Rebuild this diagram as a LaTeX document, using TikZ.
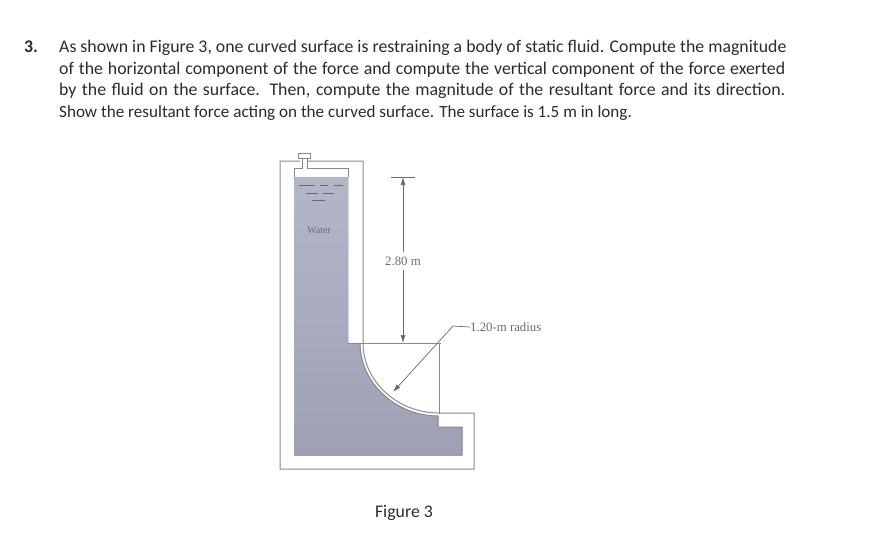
\documentclass[tikz,border=0pt]{standalone}
\usepackage{fontspec}
\setmainfont{Carlito}
\newfontfamily\figfont{Liberation Serif}
\usetikzlibrary{%
  arrows.meta,%
  calc%
}
\definecolor{waterTop}{HTML}{B2B7C8}
\definecolor{waterBot}{HTML}{9EA1B5}
\definecolor{wallc}{HTML}{8A8A8A}
\definecolor{dimc}{HTML}{6A6A6A}
\definecolor{inkc}{HTML}{2B2B2B}
\tikzset{>={Latex[length=8pt,width=5pt]}, x=1pt, y=-1pt,
  wall/.style = {draw=wallc, line width=1pt},
  dimline/.style = {draw=dimc, line width=0.7pt},
  qtext/.style = {anchor=base west, inner sep=0pt, text=inkc, font=\fontsize{17.8}{20}\selectfont},
  figlabel/.style = {inner sep=1pt, text=dimc, font=\figfont\fontsize{12.8}{14}\selectfont}}

\begin{document}
\begin{tikzpicture}
    \useasboundingbox (0,0) rectangle (870,533);
    % question text
    \node[qtext] (num) at (24,52) {\textbf{3.}};
    \node[qtext] (lineA) at (59,52) {As shown in Figure 3, one curved surface is restraining a body of static fluid. Compute the magnitude};
    \node[qtext] (lineB) at (59,74) {\makebox[726pt][s]{of the horizontal component of the force and compute the vertical component of the force exerted}};
    \node[qtext] (lineC) at (59,95) {\makebox[726pt][s]{by the fluid on the surface. Then, compute the magnitude of the resultant force and its direction.}};
    \node[qtext,font=\fontsize{17.1}{20}\selectfont] (lineD) at (59,117) {Show the resultant force acting on the curved surface. The surface is 1.5 m in long.};
    % fluid
    \fill[top color=waterTop, bottom color=waterBot] (294,177) -- (348,177) -- (348,343) -- (360,343)
      .. controls (360,383) and (396,416) .. (438,416) -- (438,427) -- (462,427)
      -- (462,455) -- (294,455) -- cycle;
    % outer wall
    \draw[wall] (300,161) -- (280,161) -- (280,469) -- (474,469) -- (474,413) -- (439,413)
      .. controls (397,413) and (363,381) .. (363,343) -- (363,161) -- (307,161);
    % inner air space and vent
    \draw[wall] (294,177) -- (294,168) -- (302,168) -- (302,158);
    \draw[wall] (348,177) -- (348,168) -- (307,168) -- (307,158);
    \draw[wall] (298,158) -- (298,153) -- (310,153) -- (310,158) -- cycle;
    % free surface marks
    \draw[dimline] (299,185) -- (315,185) (320,185) -- (328,185) (334,185) -- (343,185);
    \draw[dimline] (306,193) -- (318,193) (323,193) -- (334,193);
    \draw[dimline] (312,200) -- (325,200);
    \node[figlabel,font=\figfont\fontsize{10}{12}\selectfont] (water) at (319,230) {Water};
    % inner step and centre lines
    \coordinate (stepL) at (348,343);
    \coordinate (centre) at (439,343);
    \coordinate (arcEnd) at (439,414);
    \draw[wall] (stepL) -- (441,343);
    \draw[wall] (centre) -- (arcEnd);
    \draw[wall] (360,343) .. controls (360,383) and (396,416) .. (438,416) -- (438,427) -- (462,427) -- (462,455) -- (294,455);
    % 2.80 m dimension
    \coordinate (tickL) at (391,177);
    \coordinate (tickR) at (415,177);
    \coordinate (topDim) at (403,177);
    \coordinate (botDim) at (403,343);
    \node[figlabel,inner ysep=4pt] (height) at (403,261) {2.80 m};
    \draw[dimline] (tickL) -- (tickR);
    \draw[dimline,->] (height.north -| topDim) -- (topDim);
    \draw[dimline,->] (height.south -| botDim) -- (botDim);
    % radius leader
    \coordinate (tipR) at (393,392);
    \coordinate (kneeR) at (453,326);
    \node[figlabel,anchor=west,inner sep=0pt] (radius) at (470,327) {1.20-m radius};
    \draw[dimline,<-] (tipR) -- (kneeR) -- (radius.west);
    % caption
    \node[qtext,anchor=center] (caption) at (404,513) {Figure 3};
  \end{tikzpicture}
\end{document}
